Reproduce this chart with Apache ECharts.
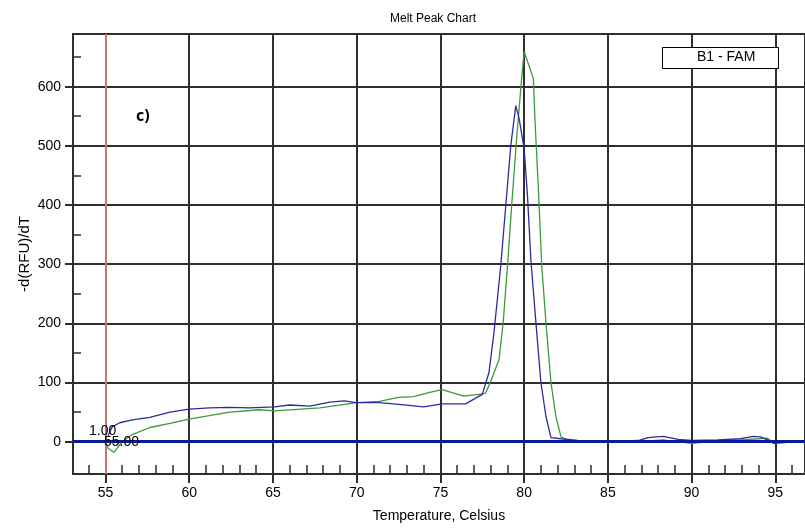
<!DOCTYPE html>
<html><head><meta charset="utf-8">
<script src="https://cdn.jsdelivr.net/npm/echarts@6/dist/echarts.min.js"></script>
<style>html,body{margin:0;padding:0;background:#fff}#c{width:805px;height:529px}</style>
</head><body><div id="c"></div>
<script>
// ---- data ----
const blueTemps  = [55.15,55.4,55.85,56.6,57.65,58.85,60.0,61.2,62.4,63.6,65.1,66.0,67.2,68.4,69.25,70.0,71.35,72.5,74.0,75.1,76.5,77.5,77.9,78.2,78.6,78.9,79.2,79.5,79.7,80.0,80.2,80.4,80.7,81.0,81.3,81.6,82.2,83.2,85.0,86.8,87.4,88.3,89.2,90.0,91.6,92.9,93.7,94.1,94.7,94.9,96.3];
const blueValues = [10,25,32,37,41,50,55,57,58,57,59,62,60,67,69,66,66,63,59,64,64,80,117,185,297,398,500,568,546,495,415,308,202,100,43,7,5,2,0,2,7,9,4,2,3,5,9,8,1,-3,0];
const greenTemps  = [55.0,55.2,55.5,56.0,56.6,57.65,58.85,60.0,62.4,64.2,65.1,67.8,70.0,71.35,72.5,73.4,74.3,75.1,75.8,76.4,77.3,77.7,78.05,78.5,78.75,79.05,79.25,79.55,79.85,80.0,80.55,80.65,80.85,81.05,81.3,81.6,81.9,82.2,82.65,84.4,85.0,86.8,88.3,90.0,91.6,92.9,94.0,94.5,94.9,96.3];
const greenValues = [-5,-12,-18,0,12,24,31,38,50,54,52,57,66,68,75,76,83,88,82,77,80,82,105,139,202,314,398,512,614,659,614,541,427,297,202,100,42,8,2,1,-1,0,3,-3,2,3,5,6,-2,0];
const xTickLabels = [55,60,65,70,75,80,85,90,95];
const xMinorTicks = [54,56,57,58,59,61,62,63,64,66,67,68,69,71,72,73,74,76,77,78,79,81,82,83,84,86,87,88,89,91,92,93,94,96];
const yTickLabels = [0,100,200,300,400,500,600];
const yMinorTicks = [50,150,250,350,450,550,650];
const cursorTemp = 55;
const cursorLabels = ['1.00','55.00'];
const seriesName = 'B1 - FAM';

const FONT = 'Liberation Sans, Arial, sans-serif';
const chart = echarts.init(document.getElementById('c'));
const xMin = 53.06, xMax = 96.77, yMin = -54.6, yMax = 689;
const gridCol = '#2e2e2e';

chart.setOption({
  animation: false,
  backgroundColor: '#fff',
  title: {
    text: 'Melt Peak Chart', left: 428, top: 8, textAlign: 'center',
    textStyle: { fontSize: 12, fontWeight: 'normal', color: '#000', fontFamily: FONT }
  },
  grid: { left: 73, right: -3, top: 34, bottom: 55, show: true, borderColor: gridCol, borderWidth: 2, containLabel: false },
  xAxis: [
    { type: 'value', min: xMin, max: xMax, position: 'bottom',
      name: 'Temperature, Celsius', nameLocation: 'middle', nameGap: 35, nameMoveOverlap: false,
      nameTextStyle: { fontSize: 14, color: '#000', fontFamily: FONT },
      axisLine: { show: true, onZero: false, lineStyle: { color: gridCol, width: 2 } },
      axisTick: { show: true, inside: false, length: 9, customValues: xTickLabels, lineStyle: { color: gridCol, width: 2 } },
      axisLabel: { customValues: xTickLabels, color: '#000', fontSize: 14, margin: 12, fontFamily: FONT },
      splitLine: { show: true, lineStyle: { color: gridCol, width: 2 } } },
    { type: 'value', min: xMin, max: xMax, position: 'bottom',
      axisLine: { show: false, onZero: false },
      axisTick: { show: true, inside: true, length: 9, customValues: xMinorTicks, lineStyle: { color: gridCol, width: 1.5 } },
      axisLabel: { show: false }, splitLine: { show: false } }
  ],
  yAxis: [
    { type: 'value', min: yMin, max: yMax, position: 'left',
      name: '-d(RFU)/dT', nameLocation: 'middle', nameGap: 41, nameRotate: 90, nameMoveOverlap: false,
      nameTextStyle: { fontSize: 15, color: '#000', fontFamily: FONT },
      axisLine: { show: true, onZero: false, lineStyle: { color: gridCol, width: 2 } },
      axisTick: { show: true, inside: false, length: 8, customValues: yTickLabels, lineStyle: { color: gridCol, width: 2 } },
      axisLabel: { customValues: yTickLabels, color: '#000', fontSize: 14, margin: 12, fontFamily: FONT },
      splitLine: { show: true, lineStyle: { color: gridCol, width: 2 } } },
    { type: 'value', min: yMin, max: yMax, position: 'left',
      axisLine: { show: false, onZero: false },
      axisTick: { show: true, inside: true, length: 8, customValues: yMinorTicks, lineStyle: { color: gridCol, width: 1.5 } },
      axisLabel: { show: false }, splitLine: { show: false } }
  ],
  series: [
    { name: seriesName, type: 'line', xAxisIndex: 0, yAxisIndex: 0, showSymbol: false, symbol: 'none', z: 3,
      lineStyle: { color: '#3a9a3a', width: 1.3 },
      data: greenTemps.map((t, i) => [t, greenValues[i]]) },
    { name: seriesName + ' b', type: 'line', xAxisIndex: 0, yAxisIndex: 0, showSymbol: false, symbol: 'none', z: 4,
      lineStyle: { color: '#2b2b9e', width: 1.3 },
      data: blueTemps.map((t, i) => [t, blueValues[i]]),
      markLine: { silent: true, symbol: 'none', label: { show: false }, animation: false,
        data: [
          { xAxis: cursorTemp, lineStyle: { color: '#f7907f', width: 1.5, type: 'solid' } },
          { yAxis: 0, lineStyle: { color: '#0a1a9a', width: 3, type: 'solid' } }
        ] } }
  ],
  graphic: [
    { type: 'text', left: 89, top: 424, z: 10, style: { text: cursorLabels[0], font: '14px ' + FONT, fill: '#000' } },
    { type: 'text', left: 104, top: 435, z: 10, style: { text: cursorLabels[1], font: '14px ' + FONT, fill: '#000' } },
    { type: 'text', left: 136, top: 108, z: 10, style: { text: 'c)', font: 'bold 16px Open Sans, sans-serif', fill: '#000' } },
    { type: 'rect', left: 662, top: 47, z: 10, shape: { width: 116, height: 21 }, style: { fill: '#fff', stroke: '#000', lineWidth: 1 } },
    { type: 'text', left: 697, top: 50, z: 11, style: { text: seriesName, font: '14px ' + FONT, fill: '#000' } }
  ]
});
</script>
</body></html>
